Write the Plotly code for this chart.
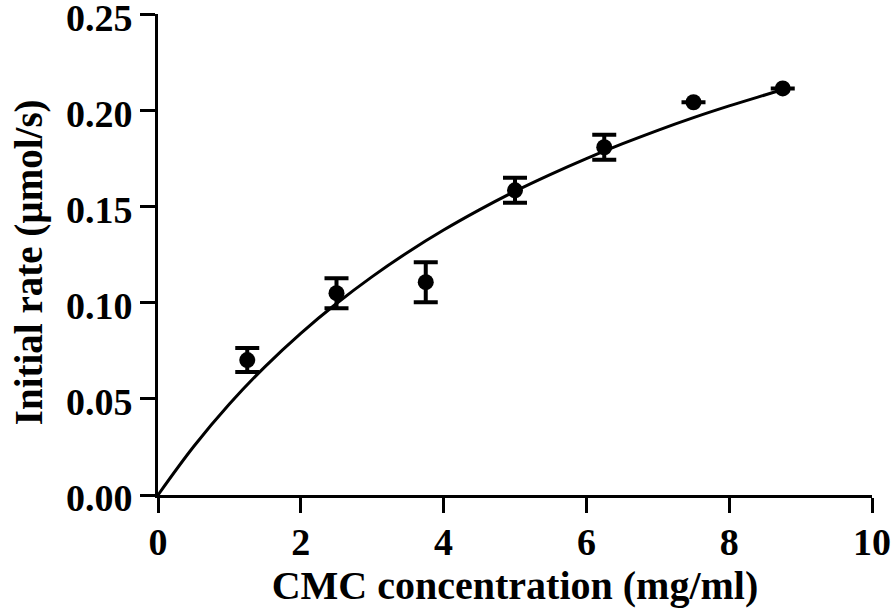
import plotly.graph_objects as go

# Measured data (CMC concentration, initial rate, SEM)
conc = [1.25, 2.5, 3.75, 5.0, 6.25, 7.5, 8.75]
rate = [0.0702, 0.1050, 0.1107, 0.1585, 0.1809, 0.2043, 0.2115]
err = [0.0062, 0.0078, 0.0104, 0.0065, 0.0065, None, None]

# Fitted curve
fit_x = [0, 0.5, 1.0, 1.5, 2.0, 2.5, 3.0, 3.5, 4.0, 4.5, 5.0, 5.5, 6.0, 6.5, 7.0, 7.5, 8.0, 8.5, 8.75]
fit_y = [0, 0.0252, 0.0473, 0.0668, 0.0841, 0.0996, 0.1136, 0.1263, 0.1378, 0.1483,
         0.1580, 0.1668, 0.1750, 0.1826, 0.1897, 0.1963, 0.2024, 0.2081, 0.2109]

x_ticks = [0, 2, 4, 6, 8, 10]
y_ticks = [0.00, 0.05, 0.10, 0.15, 0.20, 0.25]

FONT = "Liberation Serif"

fig = go.Figure()
fig.add_trace(go.Scatter(
    x=fit_x, y=fit_y, mode="lines", line=dict(color="black", width=3, shape="spline"),
    cliponaxis=False, showlegend=False, hoverinfo="skip"))
fig.add_trace(go.Scatter(
    x=conc, y=rate, mode="markers",
    marker=dict(color="black", size=16, symbol="circle"),
    error_y=dict(type="data", array=err, visible=True, color="black", thickness=4, width=12),
    cliponaxis=False, showlegend=False))

fig.update_layout(
    width=894, height=614,
    margin=dict(l=158, r=22, t=14, b=119),
    paper_bgcolor="white", plot_bgcolor="white",
    font=dict(family=FONT, color="black", size=38, weight="bold"),
    xaxis=dict(
        range=[0, 10], tickvals=x_ticks, ticktext=[str(v) for v in x_ticks],
        showline=True, linecolor="black", linewidth=3, mirror=False,
        ticks="outside", ticklen=15, tickwidth=3, tickcolor="black",
        showgrid=False, zeroline=False, automargin=False,
        ticklabeloverflow="allow", ticklabelstandoff=-4,
        tickfont=dict(family=FONT, size=38, weight="bold"),
        title=dict(text="CMC concentration (mg/ml)",
                   font=dict(family=FONT, size=40, weight="bold"), standoff=8),
    ),
    yaxis=dict(
        range=[0, 0.2502], tickvals=y_ticks, ticktext=[f"{v:.2f}" for v in y_ticks],
        showline=True, linecolor="black", linewidth=3, mirror=False,
        ticks="outside", ticklen=15, tickwidth=3, tickcolor="black",
        showgrid=False, zeroline=False, automargin=False,
        ticklabeloverflow="allow", ticklabelshift=3,
        tickfont=dict(family=FONT, size=38, weight="bold"),
    ),
    annotations=[dict(
        text="Initial rate (µmol/s)", textangle=-90, showarrow=False,
        xref="paper", yref="paper", x=0, y=0.484, xshift=-129,
        xanchor="center", yanchor="middle",
        font=dict(family=FONT, size=39, weight="bold", color="black"),
    )],
)

fig.write_html("out.html", config={"displayModeBar": False},
               post_script="document.body.style.margin='0';")
